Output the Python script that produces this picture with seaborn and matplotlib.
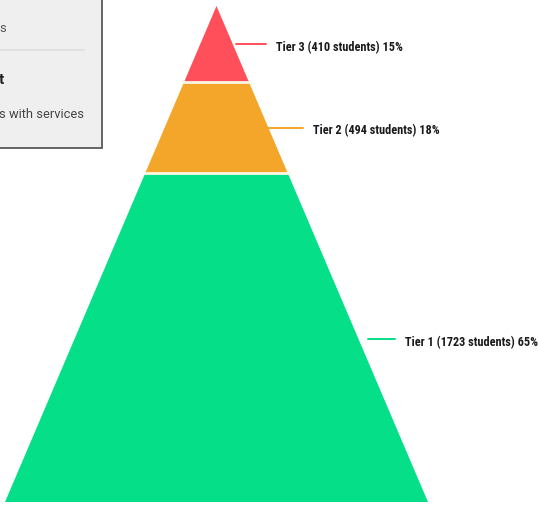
import matplotlib
matplotlib.use("Agg")
import matplotlib.pyplot as plt
import seaborn as sns
from matplotlib import font_manager
from matplotlib.patches import Rectangle

# Tier data, top of the pyramid first
tiers = ["Tier 3", "Tier 2", "Tier 1"]
students = [410, 494, 1723]
percents = [15, 18, 65]
tier_colors = ["#FF4F5B", "#F4A62A", "#05DF88"]

sns.set_theme(style="white")
plt.rcParams["font.family"] = ["Roboto", "DejaVu Sans"]

# pick a narrow face for the tier labels if one is installed
installed = {f.name for f in font_manager.fontManager.ttflist}
narrow = next((n for n in ["Roboto Condensed", "Liberation Sans Narrow",
                           "Open Sans Condensed", "DejaVu Sans Condensed",
                           "Roboto"] if n in installed), "DejaVu Sans")

W, H = 538, 505
fig = plt.figure(figsize=(W / 100, H / 100), dpi=100)
ax = fig.add_axes([0, 0, 1, 1])
ax.set_xlim(0, W)
ax.set_ylim(H, 0)
ax.axis("off")

# Pyramid geometry (pixel space)
apex_x, apex_y = 216.5, 6
base_y, half_base = 502, 211.5
total_h = base_y - apex_y
total_p = sum(percents)

def half_width(y):
    return half_base * (y - apex_y) / total_h

palette = sns.color_palette(tier_colors)
label_x0 = [236, 268, 368]
label_len = [30, 35, 27]
y_top = apex_y
for i, (name, n, p) in enumerate(zip(tiers, students, percents)):
    y_bot = y_top + total_h * p / total_p
    wt, wb = half_width(y_top), half_width(y_bot)
    xs = [apex_x - wt, apex_x + wt, apex_x + wb, apex_x - wb]
    ys = [y_top, y_top, y_bot, y_bot]
    ax.fill(xs, ys, color=palette[i], lw=0, zorder=2)
    if i > 0:
        ax.plot([apex_x - wt - 2, apex_x + wt + 2], [y_top, y_top],
                color="#FBF6E6", lw=2.0, zorder=3, solid_capstyle="butt")
    # connector and label
    y_lab = y_top + (y_bot - y_top) * 0.505
    ax.plot([label_x0[i], label_x0[i] + label_len[i]], [y_lab, y_lab],
            color=palette[i], lw=1.4, zorder=3)
    ax.text(label_x0[i] + label_len[i] + 10, y_lab + 3,
            f"{name} ({n} students) {p}%", fontsize=8.8, color="#1a1a1a",
            va="center", ha="left", fontweight="bold",
            family=[narrow, "DejaVu Sans"], fontstretch="condensed", zorder=4)
    y_top = y_bot

# Info panel in the top-left corner
ax.add_patch(Rectangle((-10, -10), 112, 158, facecolor="#EFEFEF",
                       edgecolor="#5a5a5a", lw=1.3, zorder=5))
ax.plot([-5, 84], [50, 50], color="#DDDDDD", lw=1.2, zorder=6)
ax.text(-1, 28, "s", fontsize=9.4, color="#555555", va="center", ha="left",
        zorder=7)
ax.text(-1, 80, "t", fontsize=11, color="#222222", va="center", ha="left",
        fontweight="bold", zorder=7)
ax.text(-1, 114, "s with services", fontsize=9.3, color="#444444",
        va="center", ha="left", zorder=7)

fig.savefig("out.png", dpi=100)
